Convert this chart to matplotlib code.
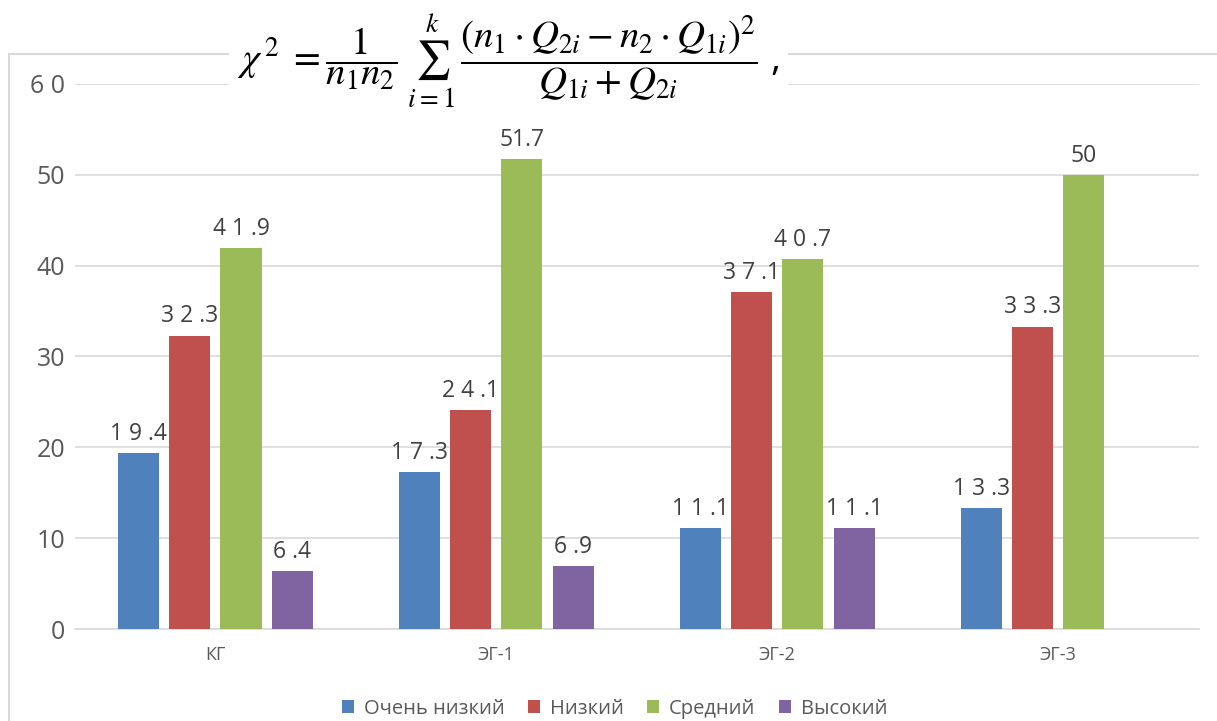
import numpy as np
import matplotlib.pyplot as plt
from matplotlib.patches import Rectangle

plt.rcParams['font.family'] = ['Open Sans', 'DejaVu Sans']
plt.rcParams['mathtext.fontset'] = 'stix'

groups = ['КГ', 'ЭГ-1', 'ЭГ-2', 'ЭГ-3']
series = ['Очень низкий', 'Низкий', 'Средний', 'Высокий']
colors = ['#4F81BD', '#C0504D', '#9BBB59', '#8064A2']

very_low = [19.4, 17.3, 11.1, 13.3]
low = [32.3, 24.1, 37.1, 33.3]
middle = [41.9, 51.7, 40.7, 50.0]
high = [6.4, 6.9, 11.1, np.nan]

very_low_txt = ['1 9 .4', '1 7 .3', '1 1 .1', '1 3 .3']
low_txt = ['3 2 .3', '2 4 .1', '3 7 .1', '3 3 .3']
middle_txt = ['4 1 .9', '51.7', '4 0 .7', '50']
high_txt = ['6 .4', '6 .9', '1 1 .1', '']

yticks = [0, 10, 20, 30, 40, 50, 60]
ytick_txt = ['0', '10', '20', '30', '40', '50', '6 0']

values = [very_low, low, middle, high]
texts = [very_low_txt, low_txt, middle_txt, high_txt]

fig = plt.figure(figsize=(12.17, 7.21), dpi=100)
ax = fig.add_axes([0.0616, 0.1276, 0.9234, 0.7559])

# outer chart frame
fig.patches.append(Rectangle((0.0075, -0.01), 1.0, 0.935, transform=fig.transFigure,
                             fill=False, edgecolor='#D9D9D9', linewidth=1.5))

x = np.arange(len(groups))
step = 0.182
width = 0.146
for k in range(4):
    pos = x + (k - 1.5) * step
    ax.bar(pos, values[k], width, color=colors[k], label=series[k], zorder=3)
    for p, v, t in zip(pos, values[k], texts[k]):
        if not np.isnan(v):
            ax.text(p, v + 0.8, t, ha='center', va='bottom', fontsize=16.5, color='#404040')

ax.set_xlim(-0.5, 3.5)
ax.set_ylim(0, 60)
ax.set_yticks(yticks)
ax.set_yticklabels(ytick_txt, fontsize=18, color='#595959')
ax.set_xticks(x)
ax.set_xticklabels(groups, fontsize=13, color='#595959')
ax.tick_params(axis='y', length=0, pad=7)
ax.tick_params(axis='x', length=0, pad=12)
ax.grid(axis='y', color='#D9D9D9', linewidth=1.2, zorder=0)
for s in ['top', 'right', 'left']:
    ax.spines[s].set_visible(False)
ax.spines['bottom'].set_color('#D9D9D9')
ax.spines['bottom'].set_linewidth(1.2)

fig.legend(loc='lower center', bbox_to_anchor=(0.505, -0.022), ncol=4, frameon=False,
           fontsize=14.5, handlelength=0.6, handleheight=0.6, columnspacing=1.15,
           handletextpad=0.5, labelcolor='#595959')

formula = (r'$\chi^{\,2}\; = \dfrac{1}{n_1 n_2}\;\sum_{i=1}^{k}\,'
           r'\dfrac{(n_1\cdot Q_{2i} - n_2\cdot Q_{1i})^2}{Q_{1i} + Q_{2i}}$ ,')
fig.text(0.418, 0.915, formula, ha='center', va='center', fontsize=28, color='black',
         bbox=dict(facecolor='white', edgecolor='none', pad=6))

fig.savefig('out.png', dpi=100)
